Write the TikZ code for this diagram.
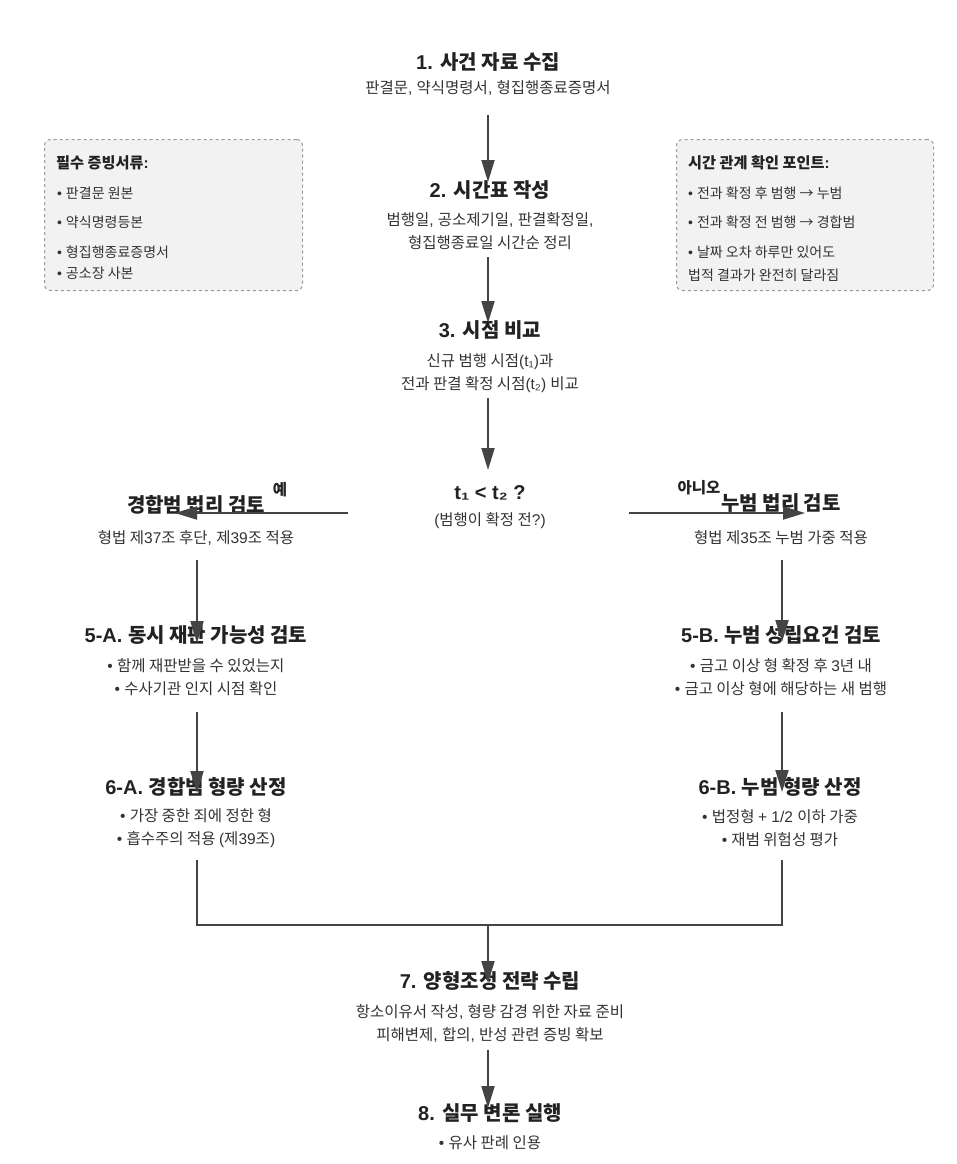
\documentclass[tikz,border=0pt]{standalone}
\usepackage{fontspec}
\setmainfont{Liberation Sans}
\newfontfamily\krfont{Noto Sans CJK KR}
\newfontfamily\latfont{Liberation Sans}
\newfontfamily\dvfont{DejaVu Sans}
\XeTeXinterchartokenstate=1
\newXeTeXintercharclass\hangulclass
\count255="AC00
\loop
  \XeTeXcharclass\count255=\hangulclass
  \advance\count255 by 1
\ifnum\count255<"D7A4 \repeat
\XeTeXcharclass"2192=\hangulclass
\XeTeXinterchartoks 0 \hangulclass = {\krfont}
\XeTeXinterchartoks 4095 \hangulclass = {\krfont}
\XeTeXinterchartoks \hangulclass 0 = {\latfont}
\XeTeXinterchartoks 4095 0 = {\latfont}
\newcommand{\sbone}{{\dvfont ₁}}
\newcommand{\sbtwo}{{\dvfont ₂}}
\usetikzlibrary{arrows.meta,calc}
\definecolor{txt}{HTML}{333333}
\definecolor{ttl}{HTML}{222222}
\definecolor{ln}{HTML}{444444}
\definecolor{boxfill}{HTML}{F2F2F2}
\definecolor{boxdraw}{HTML}{9A9A9A}
\begin{document}
\begin{tikzpicture}[x=1pt,y=-1pt,
  title/.style={font=\fontsize{20}{22}\selectfont\bfseries, text=ttl, inner sep=0pt},
  sub/.style={font=\fontsize{15.5}{23}\selectfont, text=txt, align=center, inner sep=0pt},
  lab/.style={font=\fontsize{15.5}{17}\selectfont\bfseries, text=ttl, inner sep=0pt},
  ntitle/.style={font=\fontsize{15.2}{17}\selectfont\bfseries, text=ttl, inner sep=0pt, anchor=west},
  nitem/.style={font=\fontsize{14}{16}\selectfont, text=txt, inner sep=0pt, anchor=west},
  arr/.style={draw=ln, line width=2pt, -{Triangle[length=22pt,width=13pt]}},
  lnk/.style={draw=ln, line width=2pt},
  note/.style={draw=boxdraw, dashed, fill=boxfill, rounded corners=6pt, line width=1pt, inner sep=0pt}]
\useasboundingbox (0,0) rectangle (956,1164);

% side notes
\node[note, minimum width=258pt, minimum height=151pt, anchor=north west] (nbl) at (44,139) {};
\node[ntitle] (nbl0) at (56,163) {필수 증빙서류:};
\node[nitem] (nbl1) at (57,193) {• 판결문 원본};
\node[nitem] (nbl2) at (57,222) {• 약식명령등본};
\node[nitem] (nbl3) at (57,252) {• 형집행종료증명서};
\node[nitem] (nbl4) at (57,273) {• 공소장 사본};

\node[note, minimum width=257pt, minimum height=151pt, anchor=north west] (nbr) at (676,139) {};
\node[ntitle] (nbr0) at (688,163) {시간 관계 확인 포인트:};
\node[nitem] (nbr1) at (688,193) {• 전과 확정 후 범행 → 누범};
\node[nitem] (nbr2) at (688,222) {• 전과 확정 전 범행 → 경합범};
\node[nitem] (nbr3) at (688,252) {• 날짜 오차 하루만 있어도};
\node[nitem] (nbr4) at (688,275) {법적 결과가 완전히 달라짐};

% main column
\node[title] (s1) at (488,62) {1. 사건 자료 수집};
\node[sub] (s1d) at (488,88) {판결문, 약식명령서, 형집행종료증명서};
\node[title] (s2) at (490,190) {2. 시간표 작성};
\node[sub] (s2d) at (490,231.5) {범행일, 공소제기일, 판결확정일,\\형집행종료일 시간순 정리};
\node[title] (s3) at (490,330) {3. 시점 비교};
\node[sub] (s3d) at (490,373) {신규 범행 시점(t\sbone)과\\전과 판결 확정 시점(t\sbtwo) 비교};
\node[title] (s4) at (490,493) {t\sbone{} < t\sbtwo{} ?};
\node[sub] (s4d) at (490,521) {(범행이 확정 전?)};

% left branch
\node[title] (sl) at (196,505) {경합범 법리 검토};
\node[sub] (sld) at (196,538) {형법 제37조 후단, 제39조 적용};
\node[title] (s5a) at (196,635) {5-A. 동시 재판 가능성 검토};
\node[sub] (s5ad) at (196,677.5) {• 함께 재판받을 수 있었는지\\• 수사기관 인지 시점 확인};
\node[title] (s6a) at (196,787) {6-A. 경합범 형량 산정};
\node[sub] (s6ad) at (196,828.5) {• 가장 중한 죄에 정한 형\\• 흡수주의 적용 (제39조)};

% right branch
\node[title] (sr) at (781,503) {누범 법리 검토};
\node[sub] (srd) at (781,538) {형법 제35조 누범 가중 적용};
\node[title] (s5b) at (781,635) {5-B. 누범 성립요건 검토};
\node[sub] (s5bd) at (781,677.5) {• 금고 이상 형 확정 후 3년 내\\• 금고 이상 형에 해당하는 새 범행};
\node[title] (s6b) at (780,787) {6-B. 누범 형량 산정};
\node[sub] (s6bd) at (780,828.5) {• 법정형 + 1/2 이하 가중\\• 재범 위험성 평가};

% bottom
\node[title] (s7) at (490,981) {7. 양형조정 전략 수립};
\node[sub] (s7d) at (490,1023.5) {항소이유서 작성, 형량 감경 위한 자료 준비\\피해변제, 합의, 반성 관련 증빙 확보};
\node[title] (s8) at (490,1113) {8. 실무 변론 실행};
\node[sub] (s8d) at (490,1143) {• 유사 판례 인용};

% connectors
\draw[arr] ($(s1d.center)+(0,27)$) -- ($(s2.center)+(-2,-8)$);
\draw[arr] ($(s2d.center)+(-2,25.5)$) -- ($(s3.center)+(-2,-7)$);
\draw[arr] ($(s3d.center)+(-2,25)$) -- ($(s4.center)+(-2,-23)$);
\draw[arr] ($(s4.center)+(-142,20)$) -- ($(sl.center)+(-21,8)$);
\draw[arr] ($(s4.center)+(139,20)$) -- ($(sr.center)+(24,10)$);
\node[lab] (yes) at (280,490) {예};
\node[lab] (no) at (699,488) {아니오};
\draw[arr] ($(sld.center)+(1,22)$) -- ($(s5a.center)+(1,8)$);
\draw[arr] ($(srd.center)+(1,22)$) -- ($(s5b.center)+(1,7)$);
\draw[arr] ($(s5ad.center)+(1,34.5)$) -- ($(s6a.center)+(1,6)$);
\draw[arr] ($(s5bd.center)+(1,34.5)$) -- ($(s6b.center)+(2,5)$);
\coordinate (m) at (488,925);
\draw[lnk] ($(s6ad.center)+(1,31.5)$) |- (m) -| ($(s6bd.center)+(2,31.5)$);
\draw[arr] (m) -- ($(s7.center)+(-2,2)$);
\draw[arr] ($(s7d.center)+(-2,26.5)$) -- ($(s8.center)+(-2,-5)$);
\end{tikzpicture}
\end{document}
